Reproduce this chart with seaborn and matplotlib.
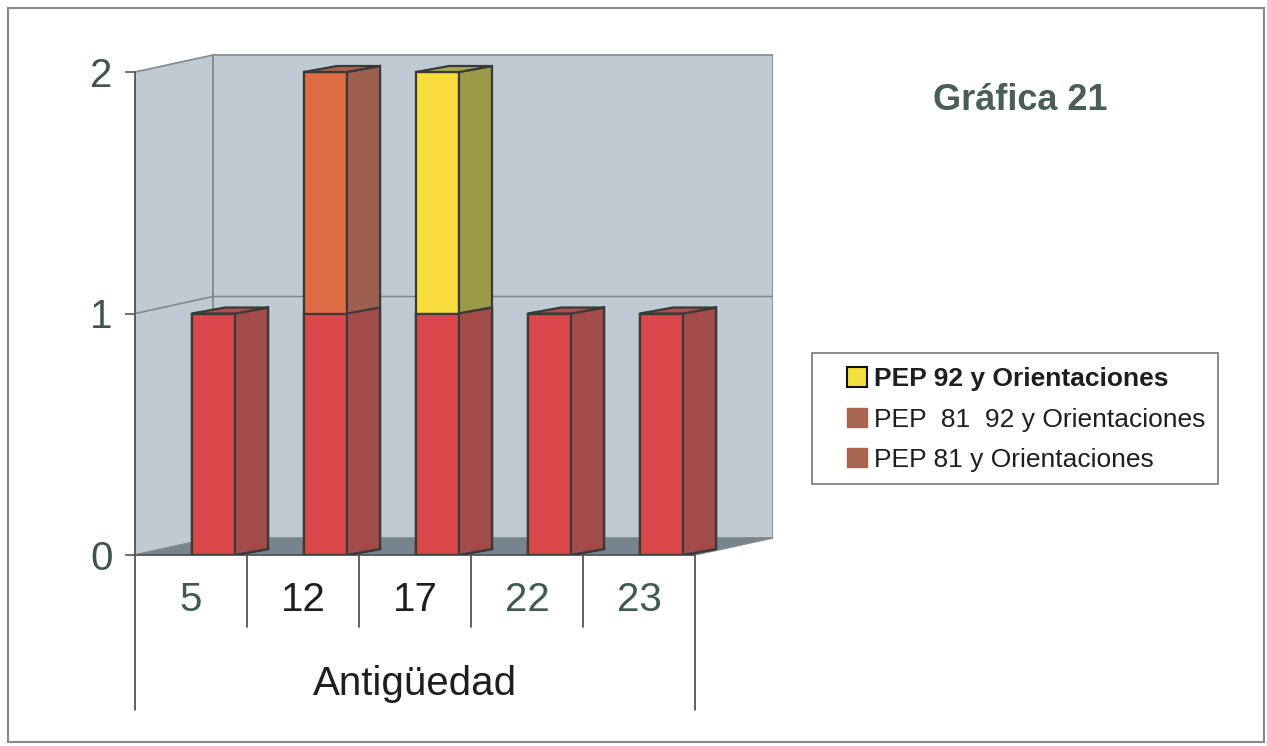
import matplotlib
matplotlib.use("Agg")
import matplotlib.pyplot as plt
import seaborn as sns
import numpy as np
import pandas as pd
from matplotlib.patches import Polygon, Rectangle, Patch

# ---- data ----
categories = ["5", "12", "17", "22", "23"]
pep81 = [1, 1, 1, 1, 1]
pep81_92 = [0, 1, 0, 0, 0]
pep92 = [0, 0, 1, 0, 0]
series_names = ["PEP 92 y Orientaciones", "PEP  81  92 y Orientaciones", "PEP 81 y Orientaciones"]
yticks = [0, 1, 2]
xlabel = "Antigüedad"
title = "Gráfica 21"

# ---- style ----
sns.set_theme(style="white")
plt.rcParams['font.family'] = ['Liberation Sans', 'DejaVu Sans']

W, H = 1267, 746
fig = plt.figure(figsize=(W / 100, H / 100), dpi=100)
fig.patch.set_facecolor("white")
ax = fig.add_axes([135 / W, 1 - 555 / H, (773 - 135) / W, (555 - 53) / H])
ax.set_facecolor("none")

PXX = 112.0      # px per category
PXY = 241.5      # px per unit value
x0 = -(213.5 - 135) / PXX          # front-left edge of the plot box
x1 = x0 + len(categories)          # front-right edge
wdx, wdy = 78 / PXX, 17 / PXY      # wall depth offset
bdx, bdy = 33 / PXX, 6 / PXY       # bar depth offset
bar_w = 43 / PXX
ymax = 2

edge = "#3a3a3a"
wall_c = "#bfcad2"
floor_c = "#77848e"
wall_edge = "#7f8a90"

# ---- walls & floor ----
ax.add_patch(Polygon([(x0, 0), (x0 + wdx, wdy), (x0 + wdx, ymax + wdy), (x0, ymax)],
                     closed=True, facecolor=wall_c, edgecolor=wall_edge, lw=1.2, zorder=0))
ax.add_patch(Polygon([(x0 + wdx, wdy), (x1 + wdx, wdy), (x1 + wdx, ymax + wdy), (x0 + wdx, ymax + wdy)],
                     closed=True, facecolor=wall_c, edgecolor=wall_edge, lw=1.2, zorder=0))
ax.add_patch(Polygon([(x0, 0), (x1, 0), (x1 + wdx, wdy), (x0 + wdx, wdy)],
                     closed=True, facecolor=floor_c, edgecolor=wall_edge, lw=1.0, zorder=0.5))
for t in yticks[1:-1]:
    ax.plot([x0, x0 + wdx, x1 + wdx], [t, t + wdy, t + wdy], color=wall_edge, lw=1.2, zorder=0.6)

# ---- stacked bars (painted as cumulative layers) ----
r = np.array(pep81); o = np.array(pep81_92); yv = np.array(pep92)
layers = [
    (r + o + yv, "#f7dc3b", "#9a9a48"),
    (r + o, "#e06c45", "#9e604e"),
    (r, "#d9494b", "#a24b48"),
]
top_colors = []
for i in range(len(categories)):
    if yv[i] > 0:
        top_colors.append("#a8a84c")
    elif o[i] > 0:
        top_colors.append("#a8644f")
    else:
        top_colors.append("#aa4f4b")

for li, (vals, front, side) in enumerate(layers):
    n0 = len(ax.patches)
    sns.barplot(x=categories, y=vals, order=categories, color=front, saturation=1,
                width=bar_w, edgecolor=edge, linewidth=1.6, ax=ax, zorder=3 + li * 0.1)
    for p in ax.patches[n0:]:
        xr = p.get_x() + p.get_width()
        b, t = p.get_y(), p.get_y() + p.get_height()
        ax.add_patch(Polygon([(xr, b), (xr + bdx, b + bdy), (xr + bdx, t + bdy), (xr, t)],
                             closed=True, facecolor=side, edgecolor=edge, lw=1.6,
                             zorder=3 + li * 0.1 + 0.05))
    if li == 0:
        for p, tc in zip(ax.patches[n0:], top_colors):
            xl = p.get_x(); xr = xl + p.get_width(); t = p.get_y() + p.get_height()
            ax.add_patch(Polygon([(xl, t), (xr, t), (xr + bdx, t + bdy), (xl + bdx, t + bdy)],
                                 closed=True, facecolor=tc, edgecolor=edge, lw=1.6, zorder=4))

ax.set_xlim(x0, x1 + wdx)
ax.set_ylim(0, (555 - 53) / PXY)

# ---- axes / ticks ----
for s in ["top", "right", "bottom"]:
    ax.spines[s].set_visible(False)
ax.spines["left"].set_bounds(0, ymax)
ax.spines["left"].set_color("#555555")
ax.spines["left"].set_linewidth(1.3)
ax.set_yticks(yticks)
ax.set_yticklabels([str(t) for t in yticks])
ax.tick_params(axis="y", left=True, length=7, width=1.2, color="#555555", pad=9,
               labelsize=29, labelcolor="#3d5550")
ax.set_xticks([])
ax.set_xlabel("")
ax.set_ylabel("")

# ---- category table below ----
ax.plot([x0, x1], [0, 0], color="#555555", lw=1.3, clip_on=False, zorder=2)
y_in = -(627 - 555) / PXY
y_out = -(710 - 555) / PXY
for k in range(len(categories) + 1):
    yb = y_out if k in (0, len(categories)) else y_in
    ax.plot([x0 + k, x0 + k], [0, yb], color="#555555", lw=1.3, clip_on=False)
cat_colors = ["#3f5a54", "#1e1e1e", "#1e1e1e", "#3f5a54", "#3f5a54"]
for k, (c, cc) in enumerate(zip(categories, cat_colors)):
    ax.text(x0 + k + 0.5, -(600 - 555) / PXY, c, ha="center", va="center",
            fontsize=29, color=cc, clip_on=False)
ax.text((x0 + x1) / 2, -(684 - 555) / PXY, xlabel, ha="center", va="center",
        fontsize=29, color="#1e1e1e", clip_on=False)

# ---- title ----
fig.text(1020 / W, 1 - 100 / H, title, ha="center", va="center", fontsize=26,
         fontweight="bold", color="#4a5e58")

# ---- legend ----
fig.patches.append(Rectangle((812 / W, 1 - 484 / H), (1218 - 812) / W, (484 - 353) / H,
                             transform=fig.transFigure, facecolor="white",
                             edgecolor="#777777", lw=1.2, zorder=1))
handles = [Patch(facecolor="#f2e040", edgecolor="#111111", lw=1.5),
           Patch(facecolor="#a86552", edgecolor="#a86552"),
           Patch(facecolor="#a86552", edgecolor="#a86552")]
leg = fig.legend(handles, series_names, loc="upper left",
                 bbox_to_anchor=(842 / W, 1 - 362 / H), frameon=False, fontsize=19,
                 handlelength=0.75, handleheight=0.75, handletextpad=0.25,
                 labelspacing=0.62, borderpad=0.2, borderaxespad=0)
leg.get_texts()[0].set_fontweight("bold")
for t in leg.get_texts():
    t.set_color("#1e1e1e")

# ---- outer border ----
fig.patches.append(Rectangle((8 / W, 1 - 742 / H), (1264 - 8) / W, (742 - 8) / H,
                             transform=fig.transFigure, facecolor="none",
                             edgecolor="#888888", lw=1.5, zorder=0))

fig.savefig("out.png", dpi=100)
